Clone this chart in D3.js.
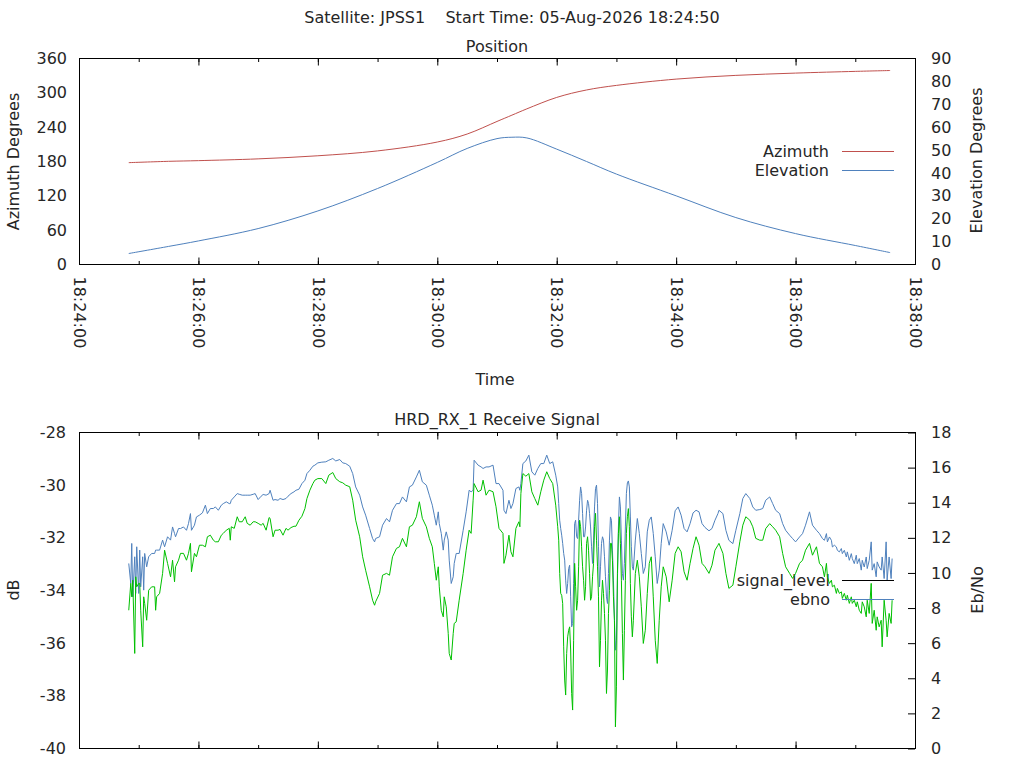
<!DOCTYPE html>
<html>
<head>
<meta charset="utf-8">
<script src="https://cdn.jsdelivr.net/npm/d3@7"></script>
<style>
  body { margin: 0; background: #fff; }
  svg text { font-family: "DejaVu Sans", sans-serif; font-size: 16px; fill: #262626; }
</style>
</head>
<body>
<script>
// Position pass (top panel)
const posTimes = ["18:24:50", "18:25:30", "18:26:00", "18:27:00", "18:28:00", "18:29:00", "18:30:00",
  "18:30:30", "18:31:00", "18:31:15", "18:31:30", "18:32:00", "18:32:30", "18:33:00", "18:34:00",
  "18:35:00", "18:36:00", "18:37:00", "18:37:35"];
const azimuth = [178, 180.3, 181.5, 184.6, 190, 198.5, 214, 228, 250, 261, 272, 292, 305, 313, 324,
  330.5, 334.5, 337.5, 339];
const elevation = [4.8, 7.9, 10.3, 15.7, 23.4, 33.2, 44.6, 50.7, 55.0, 55.6, 55.3, 50.4, 45.0, 39.5, 30.0,
  20.5, 13.5, 8.3, 5.2];

// Receive signal (bottom panel): seconds after 18:24:00
const sigSec = [50, 52, 53, 54, 56, 57, 58, 60, 61, 62, 64, 65, 66, 68, 70, 73, 76, 77, 78, 81, 84, 86, 89, 92,
  94, 96, 97, 100, 102, 105, 108, 110, 112, 113, 116, 118, 121, 124, 127, 129, 132, 135, 137, 140, 143, 145,
  148, 151, 152, 153, 156, 159, 161, 164, 167, 169, 172, 175, 177, 180, 183, 185, 188, 191, 192, 195, 197,
  200, 202, 205, 208, 210, 213, 216, 218, 221, 224, 227, 229, 232, 235, 237, 240,
  244, 248, 251, 255, 258, 262, 265, 268, 272, 275, 278, 282, 285, 288, 292, 295, 297, 298, 302, 305, 309,
  312, 315, 319, 322, 325, 329, 332, 335, 339, 342, 345, 349, 352, 355, 357, 359, 361, 362, 364, 366, 367,
  369, 371, 372, 374, 376, 377, 379, 382, 386, 389, 392, 394, 396, 397, 401, 404, 406, 409, 412, 416, 419,
  422, 426, 427, 429, 432, 434, 436, 439, 442,
  443, 444, 446, 449, 452, 455, 458, 461, 464, 467, 470, 473, 476, 479,
  481, 482, 483, 484, 485, 486, 487, 488, 489, 490, 491, 492, 493, 494, 495, 496, 497, 498, 499, 500,
  501, 502, 503, 504, 505, 506, 507, 508, 509, 510, 511, 512, 513, 514, 515, 516, 517, 518, 519, 520,
  521, 522, 523, 524, 525, 526, 527, 528, 529, 530, 531, 532, 533, 534, 535, 536, 537, 538, 539, 540,
  541, 542, 543, 544, 545, 546, 547, 548, 549, 550, 551, 552, 553, 554, 555, 556, 557,
  559, 561, 563, 565, 567, 569, 571, 573, 575, 577, 579, 581, 583, 585, 587, 590, 593, 596, 599, 602, 605,
  608, 611, 614, 617, 620, 623, 626, 629, 633, 636, 639, 642,
  643, 647, 650, 653, 657, 660, 664, 667, 670, 674, 677, 680, 684, 687, 690, 694, 697, 700, 704, 707, 710,
  714, 717, 720, 724, 727, 730, 734, 737, 741, 744, 747, 749, 751, 752, 754, 756, 757, 759, 761, 762, 764,
  766, 767, 769, 771, 772, 774, 776, 777, 779, 781, 782, 784, 786, 787, 789, 791, 792, 794, 796, 797, 799,
  801, 802, 804, 806, 807, 809, 811, 812, 814, 816, 817];

// Eb/No (blue, right axis)
const ebnoValues = [10.54, 9.40, 11.68, 8.64, 10.92, 8.83, 11.49, 8.83, 11.30, 9.21, 10.92, 9.02, 11.11, 10.35,
  10.92, 11.11, 11.11, 11.30, 11.30, 11.30, 11.87, 11.49, 12.06, 11.87, 12.62, 12.25, 12.06, 12.53, 12.53,
  12.62, 12.43, 12.81, 13.38, 12.43, 12.72, 13.19, 13.29, 13.42, 13.86, 13.38, 13.67, 13.67, 13.76, 13.57,
  13.86, 13.95, 14.05, 13.95, 13.95, 14.14, 14.33, 14.52, 14.48, 14.43, 14.43, 14.43, 14.43, 14.48, 14.52,
  14.18, 14.37, 14.47, 14.43, 14.52, 14.71, 14.14, 14.18, 14.14, 14.24, 14.18, 14.24, 14.37, 14.52, 14.62,
  14.71, 14.77, 15.09, 15.28, 15.66, 15.85, 16.08, 16.14, 16.27,
  16.31, 16.33, 16.42, 16.52, 16.38, 16.46, 16.27, 16.23, 16.08, 15.66, 14.90, 14.43, 13.76, 13.29, 12.53,
  11.96, 11.77, 11.96, 12.06, 12.72, 13.10, 12.91, 13.57, 13.95, 13.95, 14.33, 14.05, 14.90, 15.00, 15.47,
  15.85, 15.19, 15.00, 14.43, 13.86, 13.29, 12.72, 13.48, 12.81, 12.25, 11.30, 11.87, 12.34, 11.87, 10.73,
  9.40, 9.78, 10.54, 11.11, 11.11, 12.43, 13.48, 14.71, 14.62, 14.71, 16.42, 16.14, 16.04, 15.95, 16.04,
  16.04, 16.14, 15.09, 15.09, 14.71, 13.57, 13.38, 14.14, 13.67, 13.95, 14.81, 14.90,
  14.71, 15.09, 16.23, 16.38, 16.71, 15.76, 15.57, 15.95, 16.23, 16.23, 16.71, 16.23, 16.33, 15.57,
  14.90, 13.95, 13.00, 12.53, 12.15, 11.68, 11.11, 10.73, 9.59, 8.83, 9.40, 10.25, 10.44, 8.64, 6.93, 7.12,
  9.40, 12.81, 13.00, 12.06, 11.96, 13.00, 14.14, 14.90, 14.52, 13.38, 12.06, 12.06, 12.62, 13.57, 14.14,
  13.95, 13.38, 12.62, 11.49, 10.54, 11.87, 13.76, 14.81, 15.00, 13.95, 11.49, 9.21, 10.35, 11.68, 12.06,
  11.87, 10.92, 9.78, 8.64, 8.26, 9.97, 11.87, 13.19, 13.00, 11.30, 9.59, 7.31, 5.60, 6.17, 9.59, 12.62,
  14.33, 13.76, 11.87, 9.97, 9.59, 10.54, 12.62, 14.52, 15.13, 15.24, 14.90, 13.19, 11.49, 10.35, 10.16,
  11.87, 13.10, 12.25, 11.11, 9.97, 10.35, 12.34, 13.00, 13.19, 12.25, 10.92, 9.40, 10.16, 11.68, 12.81,
  12.34, 11.58, 12.43, 13.54, 13.76, 13.29, 12.53, 12.34, 12.81, 13.42, 13.57, 13.48, 12.81, 12.59, 12.40,
  12.53, 13.00, 13.38,
  13.57, 13.38, 12.43, 11.86, 11.67, 12.43, 13.38, 14.24, 14.52, 14.24, 13.76, 13.57, 13.61, 13.67, 14.14,
  14.33, 13.95, 13.57, 13.38, 12.81, 12.43, 12.15, 11.96, 11.77, 12.05, 12.24, 12.72, 13.48, 12.72, 12.43,
  12.24, 11.96, 11.86, 12.24, 11.77, 12.05, 11.86, 11.48, 11.58, 11.48, 11.29, 11.20, 11.39, 11.10, 11.29,
  10.91, 11.20, 10.72, 11.10, 10.82, 10.53, 11.01, 10.53, 10.82, 10.16, 10.72, 10.34, 10.91, 10.25, 10.72,
  11.77, 10.16, 10.53, 9.78, 10.63, 10.34, 10.16, 10.91, 9.68, 11.77, 9.59, 10.91, 9.68, 10.82];

// Signal level (green, left axis, dB)
const levelValues = [-34.75, -33.73, -34.24, -33.61, -36.39, -33.48, -33.86, -33.73, -33.73, -34.75, -36.14,
  -34.24, -34.49, -35.13, -33.99, -33.86, -33.86, -34.75, -34.24, -34.11, -33.35, -32.47, -32.97, -33.48,
  -32.85, -33.67, -33.10, -32.85, -32.59, -32.59, -32.85, -32.59, -32.21, -33.29, -32.59, -32.72, -32.28,
  -32.28, -32.34, -31.96, -31.90, -32.09, -32.15, -32.15, -31.90, -31.83, -31.71, -31.64, -32.09, -31.58,
  -31.64, -31.20, -31.39, -31.39, -31.20, -31.45, -31.52, -31.39, -31.39, -31.45, -31.52, -31.45, -31.71,
  -31.23, -31.26, -31.96, -31.71, -31.71, -31.68, -31.90, -31.64, -31.71, -31.61, -31.56, -31.56, -31.33,
  -31.18, -30.89, -30.51, -30.19, -29.94, -29.81, -29.75,
  -29.75, -29.94, -29.62, -29.52, -29.75, -29.87, -29.91, -30.00, -30.06, -30.57, -31.33, -31.96, -32.72,
  -33.23, -33.86, -34.37, -34.56, -34.43, -34.11, -33.42, -33.35, -33.42, -32.72, -32.40, -32.34, -32.02,
  -32.34, -31.58, -31.52, -31.20, -30.63, -31.26, -31.58, -32.02, -32.34, -32.97, -33.61, -33.10, -33.86,
  -34.75, -35.00, -34.24, -34.62, -35.63, -36.39, -36.64, -35.63, -35.25, -35.19, -34.37, -33.35, -32.47,
  -31.71, -31.83, -30.57, -29.94, -30.25, -30.19, -29.81, -30.38, -30.19, -30.25, -30.82, -31.64, -31.83,
  -32.97, -32.66, -31.90, -32.53, -32.72, -31.64, -31.39,
  -31.58, -30.32, -29.56, -29.66, -29.56, -30.25, -30.51, -30.76, -30.25, -29.81, -29.49, -29.75, -29.94,
  -30.76,
  -31.58, -32.09, -33.35, -34.11, -34.18, -34.49, -36.14, -37.40, -37.97, -36.39, -35.76, -35.51, -35.38,
  -36.26, -37.91, -38.54, -35.89, -32.97, -33.86, -34.75, -34.37, -33.10, -31.33, -31.58, -32.34, -33.10,
  -33.61, -34.37, -33.86, -32.21, -31.96, -32.47, -33.35, -34.37, -34.24, -33.48, -32.97, -31.58, -31.07,
  -32.09, -33.10, -34.24, -36.90, -35.89, -34.37, -33.61, -34.11, -34.87, -35.89, -37.91, -37.02, -34.87,
  -33.99, -32.21, -32.21, -32.85, -34.24, -35.13, -39.18, -37.66, -33.35, -31.83, -31.20, -32.21, -33.61,
  -35.63, -37.40, -35.51, -33.61, -31.83, -31.20, -30.89, -31.58, -33.73, -35.00, -35.76, -35.13,
  -33.35, -32.85, -33.48, -34.62, -36.01, -35.51, -34.11, -32.97, -32.72, -34.24, -35.89, -36.77, -35.13,
  -33.86, -33.10, -33.48, -34.43, -33.61, -32.59, -32.34, -32.53, -33.29, -33.61, -32.97, -32.40, -31.96,
  -32.28, -32.97, -33.10, -33.35, -33.04, -32.47, -32.28,
  -32.21, -32.59, -33.35, -33.92, -33.80, -33.10, -32.15, -31.52, -31.20, -31.33, -31.58, -32.02, -32.09,
  -32.09, -31.65, -31.46, -31.58, -31.71, -31.96, -32.59, -33.10, -33.35, -33.54, -33.35, -32.97, -32.85,
  -32.47, -32.21, -32.66, -32.34, -32.97, -33.10, -33.48, -32.97, -33.48, -33.73, -33.61, -33.86, -33.80,
  -34.11, -33.92, -34.11, -34.05, -34.30, -34.11, -34.37, -34.18, -34.49, -34.24, -34.49, -34.37, -34.62,
  -34.43, -34.75, -34.87, -34.43, -34.62, -35.00, -34.37, -34.87, -33.73, -35.25, -34.75, -35.51, -35.00,
  -35.38, -35.13, -36.14, -34.37, -35.13, -35.76, -34.87, -35.25, -34.37];

const azTicks = [0, 60, 120, 180, 240, 300, 360];
const elTicks = [0, 10, 20, 30, 40, 50, 60, 70, 80, 90];
const dbTicks = [-40, -38, -36, -34, -32, -30, -28];
const ebTicks = [0, 2, 4, 6, 8, 10, 12, 14, 16, 18];

const parseTime = d3.timeParse("%H:%M:%S");
const tStart = parseTime("18:24:00");
const tEnd = parseTime("18:38:00");

const width = 1024, height = 768;
const left = 79, right = 915;
const topPanel = { top: 58.5, bottom: 264.5 };
const botPanel = { top: 432.5, bottom: 748.5 };

const svg = d3.select("body").append("svg")
  .attr("width", width).attr("height", height)
  .attr("viewBox", [0, 0, width, height]);

const x = d3.scaleTime().domain([tStart, tEnd]).range([left, right]);

const yAz = d3.scaleLinear().domain([0, 360]).range([topPanel.bottom, topPanel.top]);
const yEl = d3.scaleLinear().domain([0, 90]).range([topPanel.bottom, topPanel.top]);
const yDb = d3.scaleLinear().domain([-40, -28]).range([botPanel.bottom, botPanel.top]);
const yEb = d3.scaleLinear().domain([0, 18]).range([botPanel.bottom, botPanel.top]);

function styleAxis(g) {
  g.attr("font-family", null).attr("font-size", null).attr("color", "#000");
  g.select(".domain").remove();
}

// inward time ticks on top and bottom edge of a panel
function timeTicks(p, withLabels) {
  svg.append("g").attr("transform", `translate(0,${p.bottom})`)
    .call(d3.axisBottom(x).ticks(d3.timeMinute.every(1)).tickSize(-3.5).tickFormat(""))
    .call(styleAxis);
  svg.append("g").attr("transform", `translate(0,${p.top})`)
    .call(d3.axisTop(x).ticks(d3.timeMinute.every(1)).tickSize(-3.5).tickFormat(""))
    .call(styleAxis);
  svg.append("g").attr("transform", `translate(0,${p.top})`)
    .call(d3.axisTop(x).ticks(d3.timeMinute.every(2)).tickSize(-7).tickFormat(""))
    .call(styleAxis);
  const major = svg.append("g").attr("transform", `translate(0,${p.bottom})`)
    .call(d3.axisBottom(x).ticks(d3.timeMinute.every(2)).tickSize(-7)
      .tickFormat(withLabels ? d3.timeFormat("%H:%M:%S") : ""))
    .call(styleAxis);
  if (withLabels) {
    major.selectAll("text")
      .attr("transform", "rotate(90)")
      .attr("x", 12)
      .attr("y", 5.8)
      .attr("dy", 0)
      .attr("text-anchor", "start");
  }
}

// ---------- top panel: Position ----------
timeTicks(topPanel, true);

svg.append("g").attr("transform", `translate(${left},0)`)
  .call(d3.axisLeft(yAz).tickValues(azTicks).tickSize(0).tickPadding(12))
  .call(styleAxis);
svg.append("g").attr("transform", `translate(${right},0)`)
  .call(d3.axisRight(yEl).tickValues(elTicks).tickSize(0).tickPadding(16))
  .call(styleAxis);

svg.append("rect")
  .attr("x", left + 0.5).attr("y", topPanel.top)
  .attr("width", right - left).attr("height", topPanel.bottom - topPanel.top)
  .attr("fill", "none").attr("stroke", "#000");

const pos = posTimes.map((t, i) => ({ t: parseTime(t), az: azimuth[i], el: elevation[i] }));
const smooth = d3.curveCatmullRom.alpha(0.5);

svg.append("path").datum(pos)
  .attr("fill", "none").attr("stroke", "#c0504d").attr("stroke-width", 1)
  .attr("d", d3.line().curve(smooth).x(d => x(d.t)).y(d => yAz(d.az)));
svg.append("path").datum(pos)
  .attr("fill", "none").attr("stroke", "#4f81bd").attr("stroke-width", 1)
  .attr("d", d3.line().curve(smooth).x(d => x(d.t)).y(d => yEl(d.el)));

// legend
const topLegend = [
  { name: "Azimuth", color: "#c0504d", y: 151.5 },
  { name: "Elevation", color: "#4f81bd", y: 170.5 }
];
topLegend.forEach(d => {
  svg.append("text").attr("x", 829).attr("y", d.y + 5).attr("text-anchor", "end").text(d.name);
  svg.append("line").attr("x1", 842).attr("x2", 894).attr("y1", d.y).attr("y2", d.y)
    .attr("stroke", d.color);
});

// ---------- bottom panel: Receive signal ----------
timeTicks(botPanel, false);

svg.append("g").attr("transform", `translate(${left},0)`)
  .call(d3.axisLeft(yDb).tickValues(dbTicks).tickSize(0).tickPadding(13).tickFormat(d => String(d)))
  .call(styleAxis);
svg.append("g").attr("transform", `translate(${right},0)`)
  .call(d3.axisRight(yEb).tickValues(ebTicks).tickSizeInner(-7).tickSizeOuter(0).tickPadding(16))
  .call(styleAxis);

svg.append("rect")
  .attr("x", left + 0.5).attr("y", botPanel.top)
  .attr("width", right - left).attr("height", botPanel.bottom - botPanel.top)
  .attr("fill", "none").attr("stroke", "#000");

const botLegend = [
  { name: "signal_level", color: "#000", y: 580.5 },
  { name: "ebno", color: "#4f81bd", y: 599.5 }
];
botLegend.forEach(d => {
  svg.append("text").attr("x", 830).attr("y", d.y + 5).attr("text-anchor", "end").text(d.name);
});

const sig = sigSec.map((s, i) => ({ t: d3.timeSecond.offset(tStart, s), eb: ebnoValues[i], db: levelValues[i] }));

svg.append("path").datum(sig)
  .attr("fill", "none").attr("stroke", "#4f81bd").attr("stroke-width", 1)
  .attr("d", d3.line().x(d => x(d.t)).y(d => yEb(d.eb)));
svg.append("path").datum(sig)
  .attr("fill", "none").attr("stroke", "#00c000").attr("stroke-width", 1)
  .attr("d", d3.line().x(d => x(d.t)).y(d => yDb(d.db)));

botLegend.forEach(d => {
  svg.append("line").attr("x1", 842).attr("x2", 894).attr("y1", d.y).attr("y2", d.y)
    .attr("stroke", d.color);
});

// ---------- titles ----------
svg.append("text").attr("x", 512).attr("y", 23).attr("text-anchor", "middle")
  .style("white-space", "pre")
  .text("Satellite: JPSS1    Start Time: 05-Aug-2026 18:24:50");
svg.append("text").attr("x", 497).attr("y", 52).attr("text-anchor", "middle").text("Position");
svg.append("text").attr("x", 495).attr("y", 385).attr("text-anchor", "middle").text("Time");
svg.append("text").attr("x", 497).attr("y", 425).attr("text-anchor", "middle").text("HRD_RX_1 Receive Signal");

svg.append("text").attr("transform", "translate(18.5,161.5) rotate(-90)")
  .attr("text-anchor", "middle").text("Azimuth Degrees");
svg.append("text").attr("transform", "translate(982,160.5) rotate(-90)")
  .attr("text-anchor", "middle").text("Elevation Degrees");
svg.append("text").attr("transform", "translate(18.5,590) rotate(-90)")
  .attr("text-anchor", "middle").text("dB");
svg.append("text").attr("transform", "translate(983,590) rotate(-90)")
  .attr("text-anchor", "middle").text("Eb/No");
</script>
</body>
</html>
